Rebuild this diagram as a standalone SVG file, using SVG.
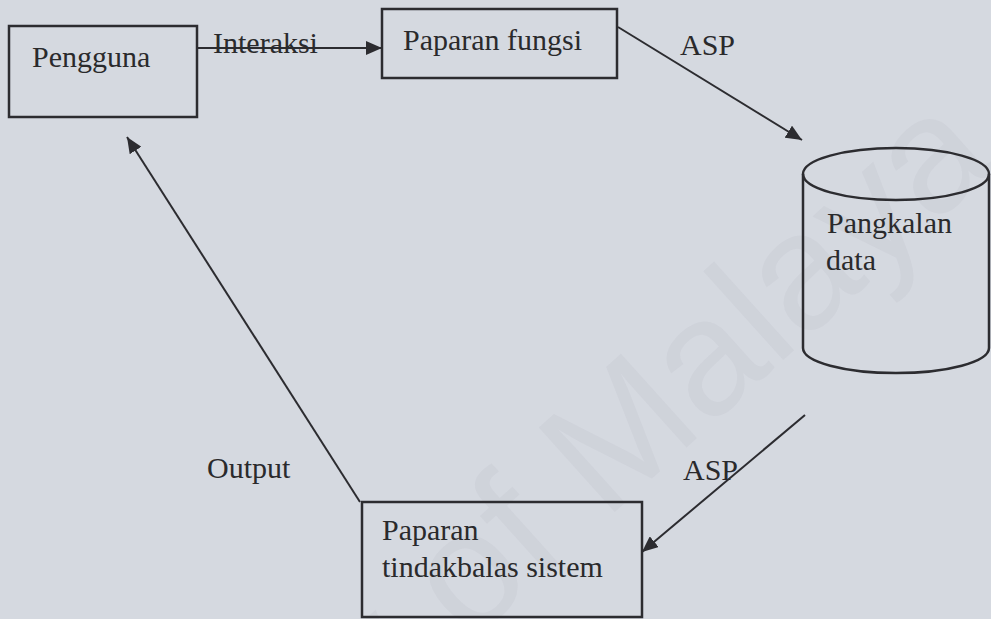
<svg xmlns="http://www.w3.org/2000/svg" width="991" height="619" viewBox="0 0 991 619">
  <style>
    .bg { fill: #d5d9e0; }
    .box { fill: none; stroke: #2c2c30; stroke-width: 2.5; }
    .edge { fill: none; stroke: #2c2c30; stroke-width: 2; }
    .lbl { font-family: 'Times New Roman', Times, 'Liberation Serif', 'Nimbus Roman', FreeSerif, 'DejaVu Serif', 'Noto Serif', serif; font-size: 30px; fill: #2a2a2c; }
    .wm { font-family: 'Liberation Sans', Arial, sans-serif; font-size: 165px; fill: #8a8f99; fill-opacity: 0.08; }
  </style>
  <defs>
    <marker id="arrow" markerUnits="userSpaceOnUse" markerWidth="18" markerHeight="14" refX="16" refY="7" orient="auto">
      <path d="M0,0 L16,7 L0,14 Z" fill="#2c2c30"/>
    </marker>
  </defs>

  <rect class="bg" x="0" y="0" width="991" height="619"/>

  <!-- faint background watermark -->
  <text class="wm" x="1000" y="165" text-anchor="end" transform="rotate(-42 1000 165)">University of Malaya</text>

  <g id="pengguna">
    <rect class="box" x="9" y="26" width="188" height="91"/>
    <text class="lbl" x="32" y="67">Pengguna</text>
  </g>

  <g id="paparan-fungsi">
    <rect class="box" x="382" y="9" width="235" height="69"/>
    <text class="lbl" x="403" y="50">Paparan fungsi</text>
  </g>

  <g id="pangkalan-data">
    <path class="box" d="M803,174 L803,348 A93,25 0 0 0 989,348 L989,174"/>
    <ellipse class="box" cx="896" cy="174" rx="93" ry="26"/>
    <text class="lbl" x="827" y="233">Pangkalan</text>
    <text class="lbl" x="826" y="270">data</text>
  </g>

  <g id="paparan-tindakbalas">
    <rect class="box" x="362" y="502" width="280" height="115"/>
    <text class="lbl" x="382" y="540">Paparan</text>
    <text class="lbl" x="382" y="577">tindakbalas sistem</text>
  </g>

  <g id="connectors">
    <line class="edge" x1="197" y1="48" x2="382" y2="48" marker-end="url(#arrow)"/>
    <line class="edge" x1="618" y1="27" x2="802" y2="140" marker-end="url(#arrow)"/>
    <line class="edge" x1="805" y1="415" x2="642" y2="552" marker-end="url(#arrow)"/>
    <line class="edge" x1="360" y1="502" x2="127" y2="137" marker-end="url(#arrow)"/>
    <text class="lbl" x="213" y="53">Interaksi</text>
    <text class="lbl" x="680" y="55">ASP</text>
    <text class="lbl" x="683" y="480">ASP</text>
    <text class="lbl" x="207" y="478">Output</text>
  </g>
</svg>
